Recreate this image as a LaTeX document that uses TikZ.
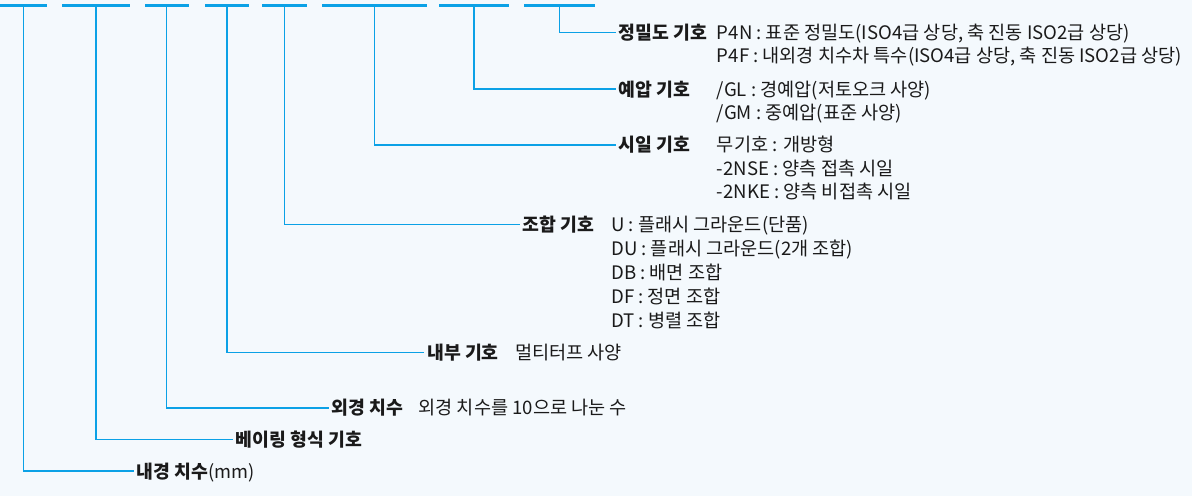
\documentclass[tikz,border=0pt]{standalone}
\usepackage{fontspec}
\setmainfont{Noto Sans CJK KR}
\definecolor{bg}{HTML}{F4F9FD}
\definecolor{lineblue}{HTML}{0BA1E6}
\definecolor{ink}{HTML}{1A1A1A}
\begin{document}
\begin{tikzpicture}[x=1pt,y=-1pt,
  bar/.style={fill=lineblue, inner sep=0pt, minimum height=3.6pt},
  conn/.style={draw=lineblue, line width=1.6pt},
  lab/.style={font=\fontsize{18.3}{22}\selectfont\bfseries, text=ink, inner xsep=3pt, inner ysep=0pt, text height=15pt, text depth=1pt, anchor=west},
  val/.style={font=\fontsize{18.6}{22}\selectfont, text=ink, inner sep=0pt, anchor=base west}]
\fill[bg] (0,0) rectangle (1192,496);
\useasboundingbox (0,0) rectangle (1192,496);
% bars
\node[bar, minimum width=47pt] (b1) at (23.5,5.3) {};
\node[bar, minimum width=68pt] (b2) at (96,5.3) {};
\node[bar, minimum width=44pt] (b3) at (166.5,5.3) {};
\node[bar, minimum width=44pt] (b4) at (227,5.3) {};
\node[bar, minimum width=45pt] (b5) at (284.5,5.3) {};
\node[bar, minimum width=105pt] (b6) at (374.5,5.3) {};
\node[bar, minimum width=70pt] (b7) at (474,5.3) {};
\node[bar, minimum width=71pt] (b8) at (559.5,5.3) {};
% labels
\node[lab] (l8) at (615.5,32.3) {정밀도 기호};
\node[lab] (l7) at (615.5,89) {예압 기호};
\node[lab] (l6) at (615.5,144.7) {시일 기호};
\node[lab] (l5) at (519.5,224.3) {조합 기호};
\node[lab] (l4) at (424,352.3) {내부 기호};
\node[lab] (l3) at (328.5,407.7) {외경 치수};
\node[lab] (l2) at (232.5,439.3) {베이링 형식 기호};
\node[lab] (l1) at (133.5,471) {내경 치수\textmd{(mm)}};
% connectors
\draw[conn] (b8.south) |- (l8.west);
\draw[conn] (b7.south) |- (l7.west);
\draw[conn] (b6.south) |- (l6.west);
\draw[conn] (b5.south) |- (l5.west);
\draw[conn] (b4.south) |- (l4.west);
\draw[conn] (b3.south) |- (l3.west);
\draw[conn] (b2.south) |- (l2.west);
\draw[conn] (b1.south) |- (l1.west);
% values
\node[val] (v8a) at (l8.base -| 716.7,0) {P4N : 표준 정밀도(ISO4급 상당, 축 진동 ISO2급 상당)};
\node[val] (v8b) at ([yshift=-23.5pt]v8a.base west) {P4F : 내외경 치수차 특수(ISO4급 상당, 축 진동 ISO2급 상당)};
\node[val] (v7a) at (l7.base -| 716.7,0) {/GL : 경예압(저토오크 사양)};
\node[val] (v7b) at ([yshift=-23.5pt]v7a.base west) {/GM : 중예압(표준 사양)};
\node[val] (v6a) at (l6.base -| 716.7,0) {무기호 : 개방형};
\node[val] (v6b) at ([yshift=-23.5pt]v6a.base west) {-2NSE : 양측 접촉 시일};
\node[val] (v6c) at ([yshift=-23.5pt]v6b.base west) {-2NKE : 양측 비접촉 시일};
\node[val] (v5a) at (l5.base -| 611,0) {U : 플래시 그라운드(단품)};
\node[val] (v5b) at ([yshift=-24pt]v5a.base west) {DU : 플래시 그라운드(2개 조합)};
\node[val] (v5c) at ([yshift=-24pt]v5b.base west) {DB : 배면 조합};
\node[val] (v5d) at ([yshift=-24pt]v5c.base west) {DF : 정면 조합};
\node[val] (v5e) at ([yshift=-24pt]v5d.base west) {DT : 병렬 조합};
\node[val] (v4) at (l4.base -| 515,0) {멀티터프 사양};
\node[val] (v3) at (l3.base -| 418.3,0) {외경 치수를 10으로 나눈 수};
\end{tikzpicture}
\end{document}
